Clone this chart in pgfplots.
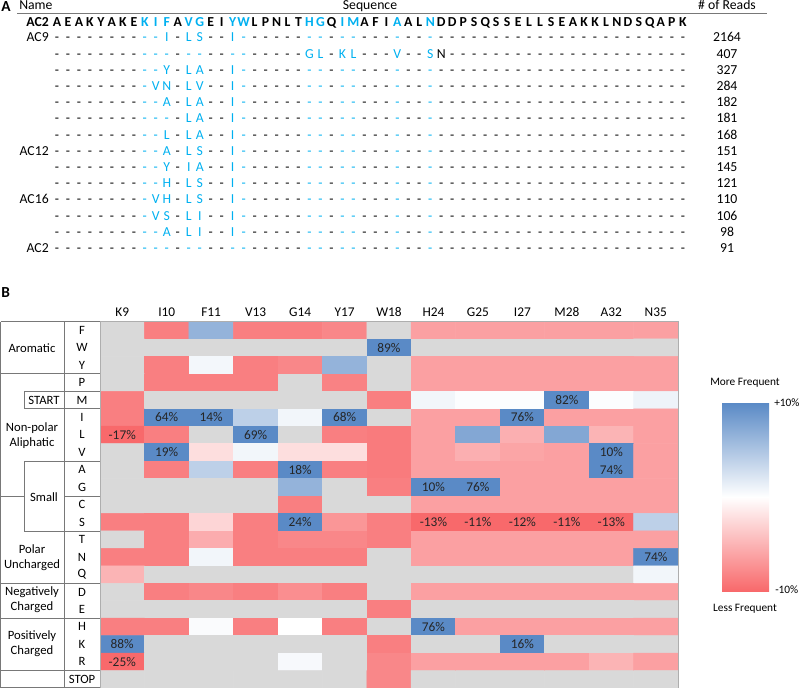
\documentclass[border=0pt]{standalone}
\usepackage{fontspec}
\setmainfont{Carlito}
\usepackage{pgfplots}
\pgfplotsset{compat=1.18}
\definecolor{seqblue}{RGB}{0,176,240}
\definecolor{cellgray}{RGB}{217,217,217}
\definecolor{linegray}{RGB}{120,120,120}
\definecolor{hmred}{RGB}{248,105,107}
\definecolor{hmblue}{RGB}{90,138,198}
\newcommand\fs{\fontsize{9.5}{11.25}\selectfont}
\newcommand\fa{\fontsize{10.3}{12}\selectfont}
\newcommand\fss{\fontsize{8.5}{10}\selectfont}
\newcommand\seqrow[4]{%
  \pgfmathsetmacro\yb{42+16.2*(#1-1)}%
  \node[anchor=base east, font=\fa] at (49,\yb) {#2};
  \node[anchor=base, font=\fa] at (727,\yb) {#3};
  \foreach \p/\l in {#4} {\expandafter\xdef\csname mu\p\endcsname{\l}}
  \foreach \i in {1,...,58} {
    \edef\cc{\expandafter\ifx\csname bp\i\endcsname\relax black\else seqblue\fi}
    \expandafter\ifx\csname mu\i\endcsname\relax \def\ch{-}\else \edef\ch{\csname mu\i\endcsname}\fi
    \node[anchor=base,text=\cc, font=\fa] at ({57+10.98*(\i-1)},\yb) {\ch};
  }
  \foreach \p/\l in {#4} {\expandafter\global\expandafter\let\csname mu\p\endcsname\relax}
}
\begin{document}
\begin{tikzpicture}
\path[use as bounding box] (0,0) rectangle (600pt,-516pt);
\begin{axis}[
  at={(75pt,-241.125pt)}, anchor=north west,
  scale only axis, width=433.5pt, height=274.875pt,
  xmin=-0.5, xmax=12.5, ymin=-0.5, ymax=20.5, y dir=reverse,
  enlargelimits=false,
  xtick={0,...,12},
  xticklabels={K9,I10,F11,V13,G14,Y17,W18,H24,G25,I27,M28,A32,N35},
  xticklabel pos=upper, ytick=\empty, major tick length=0pt,
  tick label style={font=\fontsize{10}{12}\selectfont},
  axis line style={draw=linegray!60, line width=0.5pt},
  colormap={hm}{rgb255(0)=(248,105,107) rgb255(100)=(255,255,255) rgb255(200)=(90,138,198) rgb255(201)=(217,217,217) rgb255(220)=(217,217,217)},
  point meta min=-10, point meta max=12,
  axis on top,
]
\addplot[matrix plot*, mesh/cols=13, point meta=explicit] table[row sep=\\, meta=c] {
x y c\\
0 0 11\\1 0 -8.5\\2 0 6.5\\3 0 -8.5\\4 0 -8.5\\5 0 -8\\6 0 11\\7 0 -6.3\\8 0 -6.3\\9 0 -6.3\\10 0 -6.3\\11 0 -6.3\\12 0 -6.3\\
0 1 11\\1 1 11\\2 1 11\\3 1 11\\4 1 11\\5 1 11\\6 1 10\\7 1 11\\8 1 11\\9 1 11\\10 1 11\\11 1 11\\12 1 11\\
0 2 11\\1 2 -8.5\\2 2 0.7\\3 2 -8.5\\4 2 -8\\5 2 6.5\\6 2 11\\7 2 -6.3\\8 2 -6.3\\9 2 -6.3\\10 2 -6.3\\11 2 -6.3\\12 2 -6.3\\
0 3 11\\1 3 -8.5\\2 3 -8.5\\3 3 -8.5\\4 3 11\\5 3 -8.3\\6 3 11\\7 3 -6.3\\8 3 -6.3\\9 3 -6.3\\10 3 -6.3\\11 3 -6.3\\12 3 -6.3\\
0 4 -8.5\\1 4 11\\2 4 11\\3 4 11\\4 4 11\\5 4 11\\6 4 -8.5\\7 4 0.8\\8 4 0.2\\9 4 0.2\\10 4 10\\11 4 0.2\\12 4 1\\
0 5 -8.5\\1 5 10\\2 5 10\\3 5 4\\4 5 0.8\\5 5 10\\6 5 11\\7 5 -6.3\\8 5 -6.3\\9 5 10\\10 5 -6.3\\11 5 -6.3\\12 5 -6.3\\
0 6 -10\\1 6 -8.5\\2 6 11\\3 6 10\\4 6 11\\5 6 -8.5\\6 6 -8.8\\7 6 -6.3\\8 6 7.5\\9 6 -5.3\\10 6 7.5\\11 6 -5\\12 6 -6.3\\
0 7 11\\1 7 10\\2 7 -2.2\\3 7 0.8\\4 7 -2.2\\5 7 -2.2\\6 7 -8.8\\7 7 -6.3\\8 7 -5.3\\9 7 -6\\10 7 -6.3\\11 7 10\\12 7 -6.3\\
0 8 11\\1 8 -8.5\\2 8 4\\3 8 -8.5\\4 8 10\\5 8 -8.5\\6 8 -8.8\\7 8 -6.3\\8 8 -6.3\\9 8 -6.3\\10 8 -6.3\\11 8 10\\12 8 -6.3\\
0 9 11\\1 9 11\\2 9 11\\3 9 11\\4 9 6.5\\5 9 11\\6 9 -8.5\\7 9 10\\8 9 10\\9 9 -6.3\\10 9 -6.3\\11 9 -6.3\\12 9 -6.3\\
0 10 11\\1 10 11\\2 10 11\\3 10 11\\4 10 -8.5\\5 10 11\\6 10 11\\7 10 -6.3\\8 10 -6.3\\9 10 -6.3\\10 10 -6.3\\11 10 -6.3\\12 10 -6.3\\
0 11 -8.5\\1 11 -8.5\\2 11 -2.8\\3 11 -8.5\\4 11 10\\5 11 -7\\6 11 -8.5\\7 11 -10\\8 11 -10\\9 11 -10\\10 11 -10\\11 11 -10\\12 11 4\\
0 12 11\\1 12 -8.5\\2 12 -5.5\\3 12 -8.5\\4 12 -8\\5 12 -8\\6 12 -8.5\\7 12 -6.3\\8 12 -6.3\\9 12 -6.3\\10 12 -6.3\\11 12 -6.3\\12 12 -6.3\\
0 13 -8.5\\1 13 -8.5\\2 13 0.8\\3 13 -8.5\\4 13 -8.5\\5 13 -8.5\\6 13 11\\7 13 -6.3\\8 13 -6.3\\9 13 -6.3\\10 13 -6.3\\11 13 -6.3\\12 13 10\\
0 14 -5\\1 14 11\\2 14 11\\3 14 11\\4 14 11\\5 14 11\\6 14 11\\7 14 11\\8 14 11\\9 14 11\\10 14 11\\11 14 11\\12 14 0.8\\
0 15 11\\1 15 -8.5\\2 15 -8\\3 15 -8.5\\4 15 -7.5\\5 15 -8.5\\6 15 11\\7 15 -6.3\\8 15 -6.3\\9 15 -6.3\\10 15 -6.3\\11 15 -6.3\\12 15 -6.3\\
0 16 11\\1 16 11\\2 16 11\\3 16 11\\4 16 11\\5 16 11\\6 16 -8.5\\7 16 11\\8 16 11\\9 16 11\\10 16 11\\11 16 11\\12 16 11\\
0 17 -8.5\\1 17 -8.5\\2 17 0.3\\3 17 -8.5\\4 17 0\\5 17 -8.5\\6 17 11\\7 17 10\\8 17 -6.3\\9 17 -6.3\\10 17 -6.3\\11 17 -6.3\\12 17 -6.3\\
0 18 10\\1 18 11\\2 18 11\\3 18 11\\4 18 11\\5 18 11\\6 18 -8.5\\7 18 11\\8 18 11\\9 18 10\\10 18 11\\11 18 11\\12 18 11\\
0 19 -10\\1 19 11\\2 19 11\\3 19 11\\4 19 0.5\\5 19 11\\6 19 -8\\7 19 -6.3\\8 19 -6.3\\9 19 -6.3\\10 19 -6.3\\11 19 -5\\12 19 -6.3\\
0 20 11\\1 20 11\\2 20 11\\3 20 11\\4 20 11\\5 20 11\\6 20 -8\\7 20 11\\8 20 11\\9 20 11\\10 20 11\\11 20 11\\12 20 11\\
};
\addplot[draw=none, mark=none, nodes near coords, point meta=explicit symbolic,
  every node near coord/.append style={anchor=center, font=\fontsize{10}{12}\selectfont, text=black!85, inner sep=0pt}]
  table[row sep=\\, meta=l] {
x y l\\
6 1 89\%\\
10 4 82\%\\
1 5 64\%\\ 2 5 14\%\\ 5 5 68\%\\ 9 5 76\%\\
0 6 -17\%\\ 3 6 69\%\\
1 7 19\%\\ 11 7 10\%\\
4 8 18\%\\ 11 8 74\%\\
7 9 10\%\\ 8 9 76\%\\
4 11 24\%\\ 7 11 -13\%\\ 8 11 -11\%\\ 9 11 -12\%\\ 10 11 -11\%\\ 11 11 -13\%\\
12 13 74\%\\
7 17 76\%\\
0 18 88\%\\ 9 18 16\%\\
0 19 -25\%\\
};
\end{axis}
\begin{scope}[x=0.75pt, y=-0.75pt, every node/.style={font=\fs, inner sep=0pt}]
% ---------- Panel A ----------
\node[anchor=base west, font=\fontsize{11.5}{13}\selectfont\bfseries] at (1,12) {A};
\node[anchor=base west, font=\fa] at (19,10) {Name};
\node[anchor=base, font=\fa] at (370,10) {Sequence};
\node[anchor=base, font=\fa] at (727,10) {\# of Reads};
\draw[linegray, line width=0.6pt] (17,13.5) -- (767,13.5);
\foreach \p in {9,10,11,13,14,17,18,24,25,27,28,32,35} {\expandafter\xdef\csname bp\p\endcsname{1}}
\node[anchor=base east, font=\fa\bfseries] at (49,27) {AC2};
\foreach \c [count=\i] in {A,E,A,K,Y,A,K,E,K,I,F,A,V,G,E,I,Y,W,L,P,N,L,T,H,G,Q,I,M,A,F,I,A,A,L,N,D,D,P,S,Q,S,S,E,L,L,S,E,A,K,K,L,N,D,S,Q,A,P,K} {
  \edef\cc{\expandafter\ifx\csname bp\i\endcsname\relax black\else seqblue\fi}
  \node[anchor=base, text=\cc, font=\fa\bfseries] at ({57+10.98*(\i-1)},27) {\c};
}
\seqrow{1}{AC9}{2164}{11/I,13/L,14/S,17/I}
\seqrow{2}{}{407}{24/G,25/L,27/K,28/L,32/V,35/S,36/N}
\seqrow{3}{}{327}{11/Y,13/L,14/A,17/I}
\seqrow{4}{}{284}{10/V,11/N,13/L,14/V,17/I}
\seqrow{5}{}{182}{11/A,13/L,14/A,17/I}
\seqrow{6}{}{181}{13/L,14/A,17/I}
\seqrow{7}{}{168}{11/L,13/L,14/A,17/I}
\seqrow{8}{AC12}{151}{11/A,13/L,14/S,17/I}
\seqrow{9}{}{145}{11/Y,13/I,14/A,17/I}
\seqrow{10}{}{121}{11/H,13/L,14/S,17/I}
\seqrow{11}{AC16}{110}{10/V,11/H,13/L,14/S,17/I}
\seqrow{12}{}{106}{10/V,11/S,13/L,14/I,17/I}
\seqrow{13}{}{98}{11/A,13/L,14/I,17/I}
\seqrow{14}{AC2}{91}{0/x}
% ---------- Panel B ----------
\node[anchor=west, font=\fontsize{11.5}{13}\selectfont\bfseries] at (1,293) {B};
\begin{scope}[linegray, line width=0.6pt]
\draw (0.8,321.5) -- (0.8,687.5) -- (100,687.5);
\draw (0.8,321.5) -- (100,321.5);
\draw (64,321.5) -- (64,687.5);
\draw (0.8,373.85) -- (100,373.85);
\draw (24,391.3) -- (100,391.3);
\draw (24,408.75) -- (100,408.75);
\draw (24,391.3) -- (24,408.75);
\draw (24,461.1) -- (100,461.1);
\draw (24,461.1) -- (24,530.9);
\draw (24,530.9) -- (100,530.9);
\draw (0.8,496) -- (24,496);
\draw (64,496) -- (100,496);
\draw (0.8,583.25) -- (100,583.25);
\draw (0.8,618.15) -- (100,618.15);
\draw (0.8,670.5) -- (100,670.5);
\end{scope}
\foreach \r [count=\k from 0] in {F,W,Y,P,M,I,L,V,A,G,C,S,T,N,Q,D,E,H,K,R,STOP} {
  \node at (82,{321.5+17.45*(\k+0.5)}) {\r};
}
\node at (32,348) {Aromatic};
\node at (44,400) {START};
\node[align=center] at (32,435.5) {Non-polar\\Aliphatic};
\node at (44,497) {Small};
\node[align=center] at (32,557.5) {Polar\\Uncharged};
\node[align=center] at (32,600) {Negatively\\Charged};
\node[align=center] at (32,644) {Positively\\Charged};
% colour bar
\shade[top color=hmblue, bottom color=hmred, middle color=white] (722,403) rectangle (769,591);
\node[font=\fss] at (745,383) {More Frequent};
\node[font=\fss, anchor=west] at (774,403) {+10\%};
\node[font=\fss, anchor=west] at (775,590) {-10\%};
\node[font=\fss] at (745,609) {Less Frequent};
\end{scope}
\end{tikzpicture}
\end{document}
